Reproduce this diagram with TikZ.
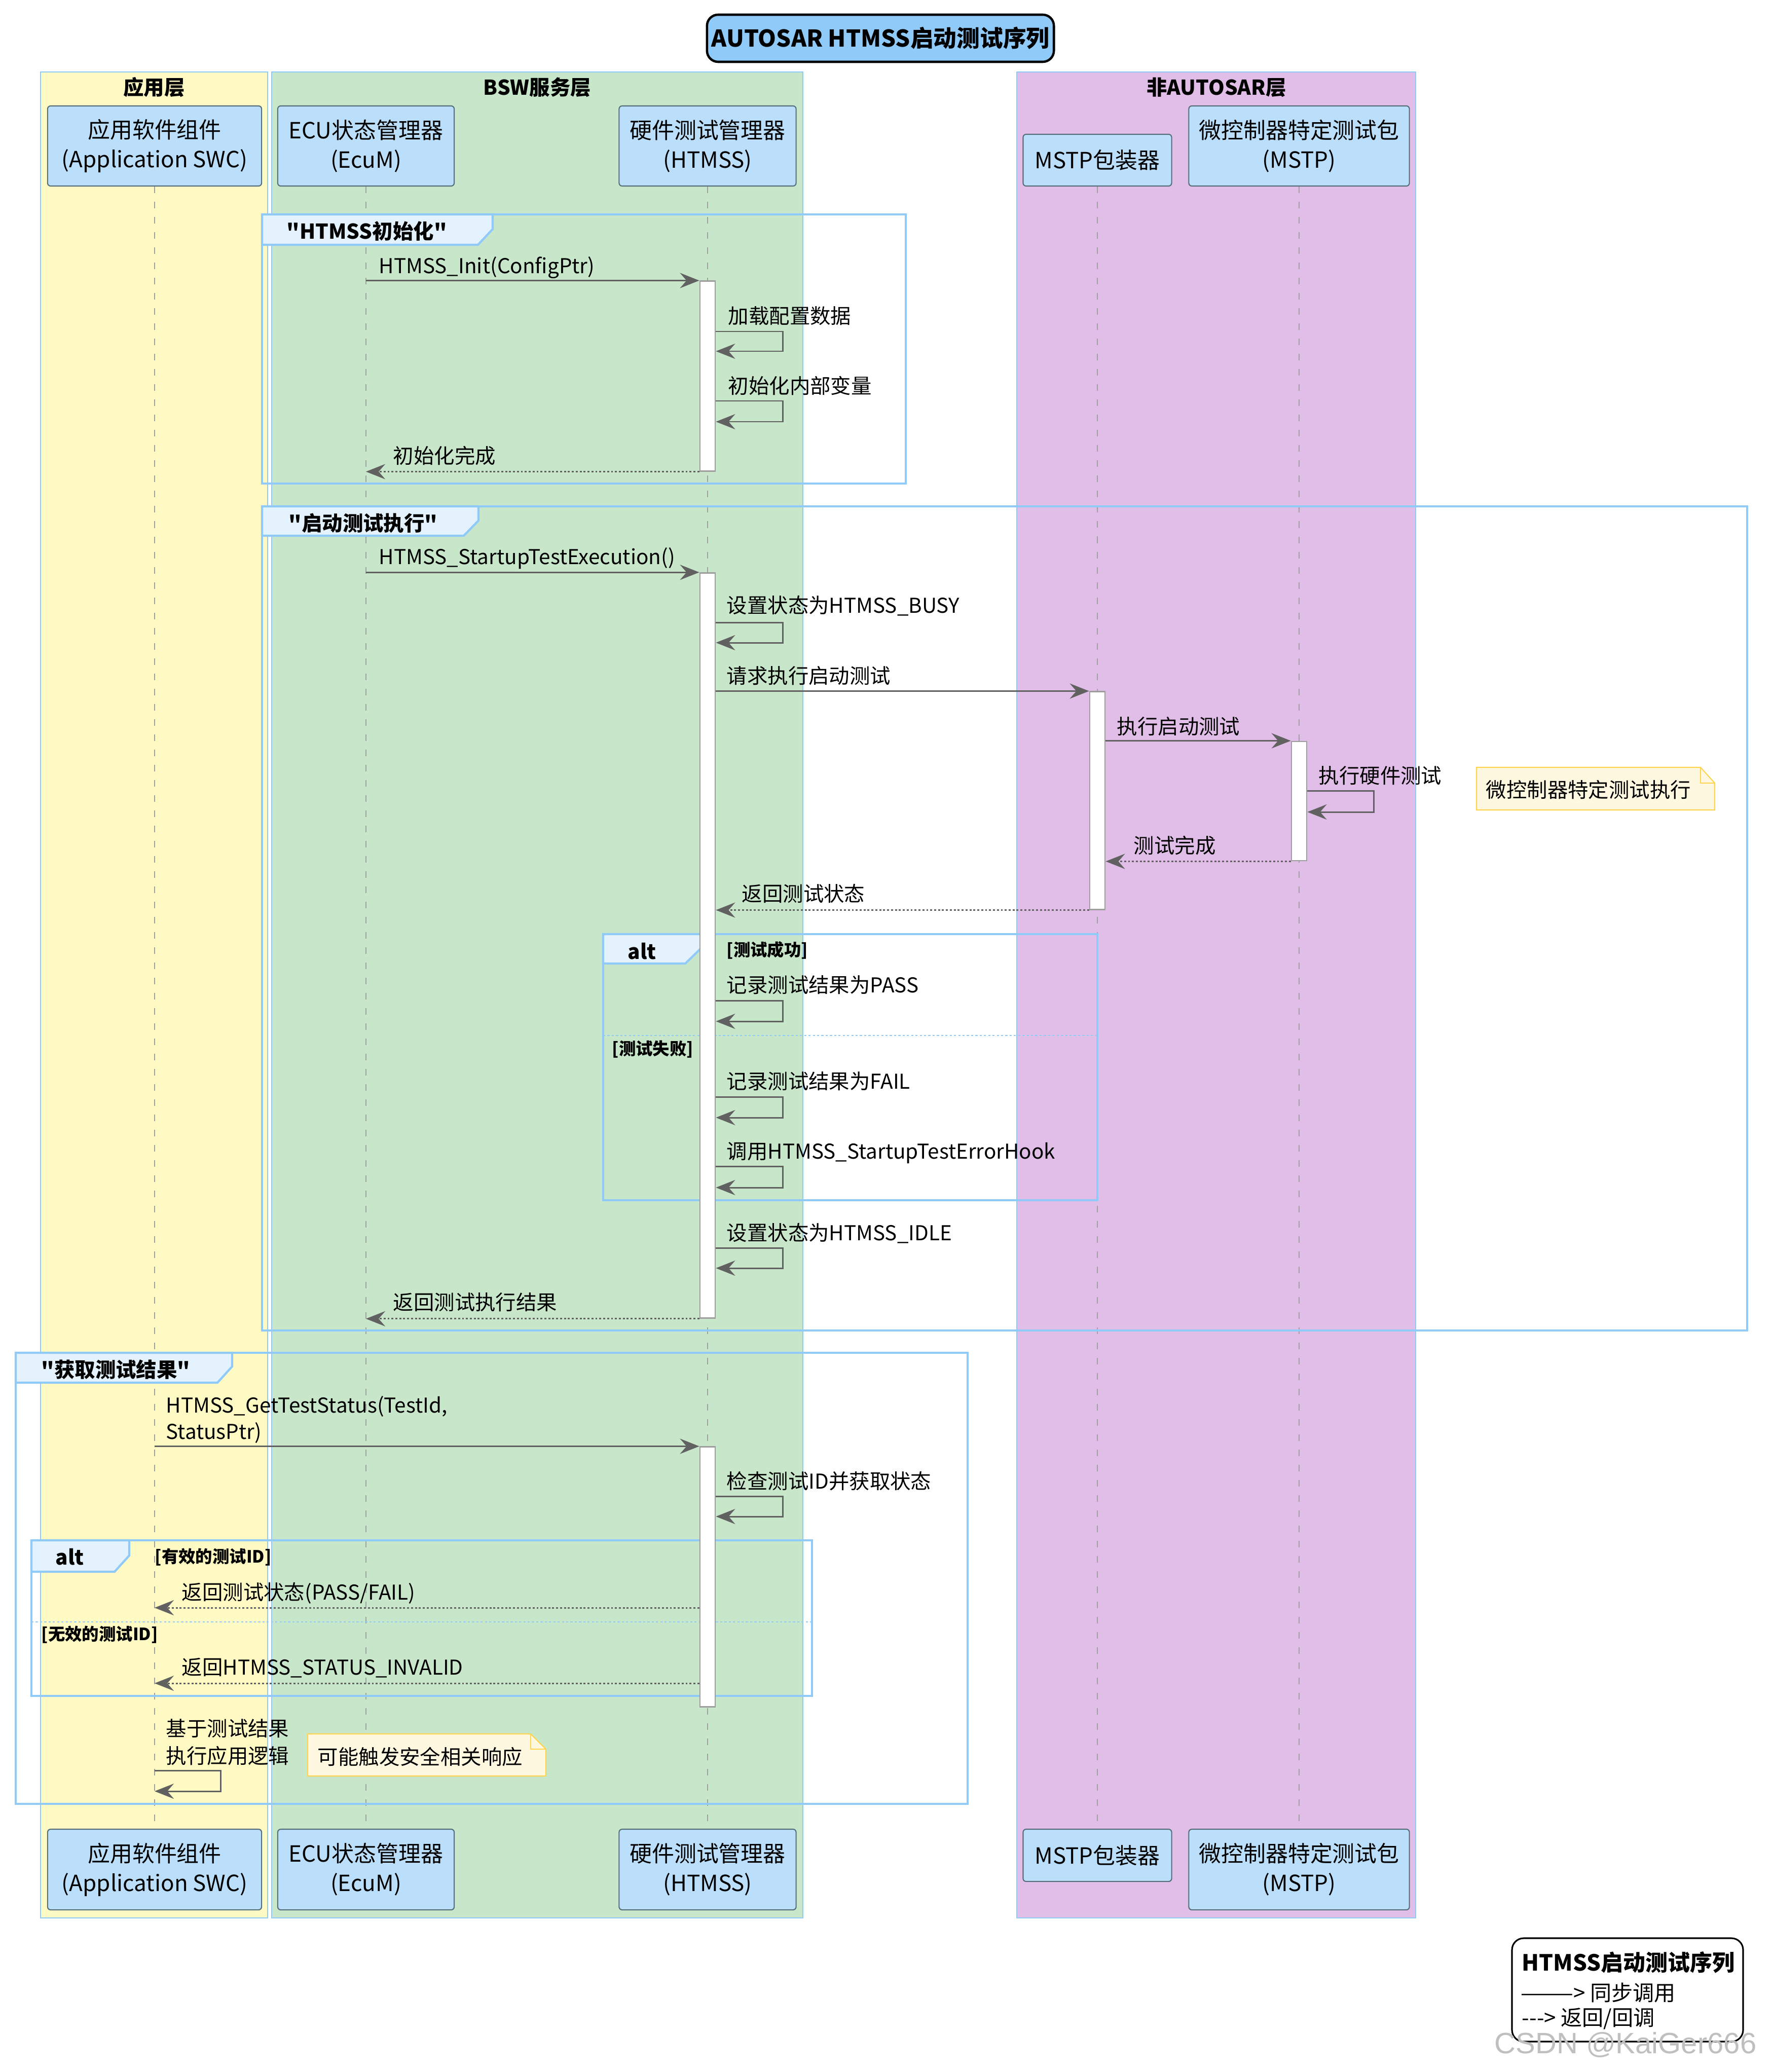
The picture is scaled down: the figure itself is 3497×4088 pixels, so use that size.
\documentclass[tikz,border=0pt]{standalone}
\usepackage{fontspec}
\setmainfont{Noto Sans CJK SC}[Ligatures=TeXOff]
\newfontfamily\wmfont{Liberation Sans}
\usetikzlibrary{arrows.meta}
\definecolor{appc}{HTML}{FFF9C4}
\definecolor{bswc}{HTML}{C8E6C9}
\definecolor{nonc}{HTML}{E1BEE7}
\definecolor{partc}{HTML}{BBDEFB}
\definecolor{partb}{HTML}{546E7A}
\definecolor{frc}{HTML}{90CAF9}
\definecolor{tabc}{HTML}{E3F2FD}
\definecolor{arrc}{HTML}{616161}
\definecolor{lifec}{HTML}{A0A0A0}
\definecolor{actb}{HTML}{9E9E9E}
\definecolor{notec}{HTML}{FFF8E1}
\definecolor{noteb}{HTML}{FFD54F}
\definecolor{titc}{HTML}{90CAF9}
\begin{document}
\begin{tikzpicture}[x=0.01cm,y=-0.01cm,
  part/.style={draw=partb, fill=partc, rounded corners=0.06cm, line width=0.6pt, align=center,
    font=\fontsize{12.5}{16.5}\selectfont, inner sep=0pt},
  msg/.style={font=\fontsize{11.5}{14}\selectfont, anchor=base west, inner sep=0pt},
  lbl/.style={font=\bfseries\fontsize{11.5}{14}\selectfont, anchor=west, inner sep=0pt},
  guard/.style={font=\bfseries\fontsize{9.5}{12}\selectfont, anchor=west, inner sep=0pt},
  layertitle/.style={font=\bfseries\fontsize{11.5}{14}\selectfont, inner sep=0pt},
  call/.style={draw=arrc, line width=0.85pt, -{Stealth[length=0.38cm,width=0.3cm,inset=0.13cm]}},
  ret/.style={call, dash pattern=on 1.1pt off 1.1pt},
  life/.style={draw=lifec, line width=0.45pt, dash pattern=on 0.13cm off 0.17cm},
  actbar/.style={draw=actb, fill=white, line width=0.8pt, minimum width=0.3cm, inner sep=0pt},
  frameb/.style={draw=frc, line width=1.2pt},
  tabb/.style={draw=frc, fill=tabc, line width=1.2pt},
  sepline/.style={draw=frc, line width=0.6pt, dash pattern=on 1.2pt off 1.2pt},
  layer/.style={draw=frc, line width=0.5pt},
  notebox/.style={draw=noteb, fill=notec, line width=0.6pt},
  notetxt/.style={font=\fontsize{11.5}{14}\selectfont, anchor=west, inner sep=0pt},
  legtxt/.style={font=\fontsize{12}{14}\selectfont, anchor=west, inner sep=0pt}]

\path[use as bounding box, fill=white] (0,0) rectangle (3497,4088);

% title
\node[draw=black, fill=titc, line width=1.3pt, rounded corners=0.22cm, minimum width=6.84cm,
  minimum height=0.93cm, inner sep=0pt, font=\bfseries\fontsize{13}{13}\selectfont] (title) at (1737,75.5) {AUTOSAR HTMSS启动测试序列};

% layers
\path[layer, fill=appc] (80,142) rectangle (528,3784);
\path[layer, fill=bswc] (536,142) rectangle (1584,3784);
\path[layer, fill=nonc] (2006,142) rectangle (2793,3784);
\node[layertitle] (lay1) at (304,172) {应用层};
\node[layertitle] (lay2) at (1060,172) {BSW服务层};
\node[layertitle] (lay3) at (2400,172) {非AUTOSAR层};

% participants
\node[part, minimum width=4.22cm, minimum height=1.58cm] (appT) at (305,288) {应用软件组件\\(Application SWC)};
\node[part, minimum width=3.48cm, minimum height=1.58cm] (ecuT) at (722,288) {ECU状态管理器\\(EcuM)};
\node[part, minimum width=3.49cm, minimum height=1.58cm] (htmT) at (1396,288) {硬件测试管理器\\(HTMSS)};
\node[part, minimum width=2.93cm, minimum height=1.02cm] (mwT) at (2165,316) {MSTP包装器};
\node[part, minimum width=4.35cm, minimum height=1.58cm] (mstpT) at (2563,288) {微控制器特定测试包\\(MSTP)};

\node[part, minimum width=4.22cm, minimum height=1.59cm] (appB) at (305,3688.5) {应用软件组件\\(Application SWC)};
\node[part, minimum width=3.48cm, minimum height=1.59cm] (ecuB) at (722,3688.5) {ECU状态管理器\\(EcuM)};
\node[part, minimum width=3.49cm, minimum height=1.59cm] (htmB) at (1396,3688.5) {硬件测试管理器\\(HTMSS)};
\node[part, minimum width=2.93cm, minimum height=1.03cm] (mwB) at (2165,3660.5) {MSTP包装器};
\node[part, minimum width=4.35cm, minimum height=1.59cm] (mstpB) at (2563,3688.5) {微控制器特定测试包\\(MSTP)};

% lifelines
\draw[life] (appT.south) -- (appB.north);
\draw[life] (ecuT.south) -- (ecuB.north);
\draw[life] (htmT.south) -- (htmB.north);
\draw[life] (mwT.south) -- (mwB.north);
\draw[life] (mstpT.south) -- (mstpB.north);

% ---------- frame 1: HTMSS init ----------
\path[frameb] (517,423) rectangle (1787,954);
\path[tabb] (517,423) -- (972,423) -- (972,452) -- (943,483) -- (517,483) -- cycle;
\node[lbl] (f1) at (565,456) {"HTMSS初始化"};

% ---------- frame 2: startup ----------
\path[frameb] (517,999) rectangle (3447,2625);
\path[tabb] (517,999) -- (944,999) -- (944,1027) -- (915,1057) -- (517,1057) -- cycle;
\node[lbl] (f2) at (569,1032) {"启动测试执行"};

% alt 1
\path[frameb] (1190,1843) rectangle (2165,2368);
\path[tabb] (1190,1843) -- (1383,1843) -- (1383,1871) -- (1352,1901) -- (1190,1901) -- cycle;
\node[lbl] (alt1) at (1238,1877) {alt};
\node[guard] (g1) at (1433,1875) {[测试成功]};
\path[sepline] (1190,2043) -- (2165,2043);
\node[guard] (g2) at (1207,2070) {[测试失败]};

% ---------- frame 3: get result ----------
\path[frameb] (31,2669) rectangle (1909,3559);
\path[tabb] (31,2669) -- (458,2669) -- (458,2696) -- (429,2728) -- (31,2728) -- cycle;
\node[lbl] (f3) at (81,2702) {"获取测试结果"};

% alt 2
\path[frameb] (62,3039) rectangle (1602,3346);
\path[tabb] (62,3039) -- (255,3039) -- (255,3069) -- (226,3101) -- (62,3101) -- cycle;
\node[lbl] (alt2) at (109,3072) {alt};
\node[guard] (g3) at (305,3072) {[有效的测试ID]};
\path[sepline] (62,3200) -- (1602,3200);
\node[guard] (g4) at (81,3225) {[无效的测试ID]};

% activation bars
\node[actbar, minimum height=3.74cm] (h1) at (1396,742) {};
\node[actbar, minimum height=14.69cm] (h2) at (1396,1865.5) {};
\node[actbar, minimum height=4.29cm] (m1) at (2165,1579.5) {};
\node[actbar, minimum height=2.35cm] (s1) at (2563,1580.5) {};
\node[actbar, minimum height=5.12cm] (h3) at (1396,3111) {};

% ---------- messages: init ----------
\draw[call] (ecuT |- h1.north) -- (h1.north west);
\node[msg] (t1) at (747,539) {HTMSS\_Init(ConfigPtr)};
\draw[call] (h1.east |- 0,654) -- ++(132,0) -- ++(0,39) -- (h1.east |- 0,693);
\node[msg] (t2) at (1436,638) {加载配置数据};
\draw[call] (h1.east |- 0,791) -- ++(132,0) -- ++(0,41) -- (h1.east |- 0,832);
\node[msg] (t3) at (1436,776) {初始化内部变量};
\draw[ret] (h1.south west) -- (ecuT |- h1.south);
\node[msg] (t4) at (775,914) {初始化完成};

% ---------- messages: startup ----------
\draw[call] (ecuT |- h2.north) -- (h2.north west);
\node[msg] (t5) at (747,1113) {HTMSS\_StartupTestExecution()};
\draw[call] (h2.east |- 0,1228) -- ++(132,0) -- ++(0,40) -- (h2.east |- 0,1268);
\node[msg] (t6) at (1433,1209) {设置状态为HTMSS\_BUSY};
\draw[call] (h2.east |- m1.north) -- (m1.north west);
\node[msg] (t7) at (1433,1348) {请求执行启动测试};
\draw[call] (m1.east |- s1.north) -- (s1.north west);
\node[msg] (t8) at (2203,1448) {执行启动测试};
\draw[call] (s1.east |- 0,1560) -- ++(131,0) -- ++(0,42) -- (s1.east |- 0,1602);
\node[msg] (t9) at (2601,1545) {执行硬件测试};
% note 1
\path[notebox] (2913,1514) -- (3355,1514) -- (3383,1545) -- (3383,1598) -- (2913,1598) -- cycle;
\path[notebox, fill=none] (3355,1514) -- (3355,1545) -- (3383,1545);
\node[notetxt] (n1) at (2931,1558) {微控制器特定测试执行};
\draw[ret] (s1.south west) -- (m1.east |- s1.south);
\node[msg] (t10) at (2236,1683) {测试完成};
\draw[ret] (m1.south west) -- (h2.east |- m1.south);
\node[msg] (t11) at (1463,1778) {返回测试状态};

\draw[call] (h2.east |- 0,1974) -- ++(132,0) -- ++(0,41) -- (h2.east |- 0,2015);
\node[msg] (t12) at (1433,1958) {记录测试结果为PASS};
\draw[call] (h2.east |- 0,2164) -- ++(132,0) -- ++(0,41) -- (h2.east |- 0,2205);
\node[msg] (t13) at (1433,2148) {记录测试结果为FAIL};
\draw[call] (h2.east |- 0,2301) -- ++(132,0) -- ++(0,42) -- (h2.east |- 0,2343);
\node[msg] (t14) at (1433,2286) {调用HTMSS\_StartupTestErrorHook};
\draw[call] (h2.east |- 0,2462) -- ++(132,0) -- ++(0,40) -- (h2.east |- 0,2502);
\node[msg] (t15) at (1433,2447) {设置状态为HTMSS\_IDLE};
\draw[ret] (h2.south west) -- (ecuT |- h2.south);
\node[msg] (t16) at (775,2584) {返回测试执行结果};

% ---------- messages: get result ----------
\draw[call] (appT |- h3.north) -- (h3.north west);
\node[msg] (t17a) at (327,2787) {HTMSS\_GetTestStatus(TestId,};
\node[msg] (t17b) at (327,2839) {StatusPtr)};
\draw[call] (h3.east |- 0,2952) -- ++(132,0) -- ++(0,40) -- (h3.east |- 0,2992);
\node[msg] (t18) at (1433,2937) {检查测试ID并获取状态};
\draw[ret] (h3.west |- 0,3172) -- (appT |- 0,3172);
\node[msg] (t19) at (358,3156) {返回测试状态(PASS/FAIL)};
\draw[ret] (h3.west |- 0,3321) -- (appT |- 0,3321);
\node[msg] (t20) at (358,3304) {返回HTMSS\_STATUS\_INVALID};
\node[msg] (t21a) at (327,3425) {基于测试结果};
\node[msg] (t21b) at (327,3479) {执行应用逻辑};
\draw[call] (appT |- 0,3493) -- (435,3493) -- (435,3534) -- (appT |- 0,3534);
% note 2
\path[notebox] (607,3421) -- (1047,3421) -- (1077,3451) -- (1077,3504) -- (607,3504) -- cycle;
\path[notebox, fill=none] (1047,3421) -- (1047,3451) -- (1077,3451);
\node[notetxt] (n2) at (626,3466) {可能触发安全相关响应};

% ---------- legend ----------
\path[draw=black, line width=0.9pt, rounded corners=0.23cm] (2983,3824) rectangle (3439,4028);
\node[legtxt, font=\bfseries\fontsize{12.5}{14}\selectfont] (leg1) at (3002,3872) {HTMSS启动测试序列};
\node[legtxt] (leg2) at (3000,3932) {———> 同步调用};
\node[legtxt] (leg3) at (3002,3983) {---> 返回/回调};

% watermark
\node[font=\wmfont\fontsize{16.5}{16.5}\selectfont, text=black!25, inner sep=0pt] (wm) at (3207,4034) {CSDN @KaiGer666};
\end{tikzpicture}
\end{document}
